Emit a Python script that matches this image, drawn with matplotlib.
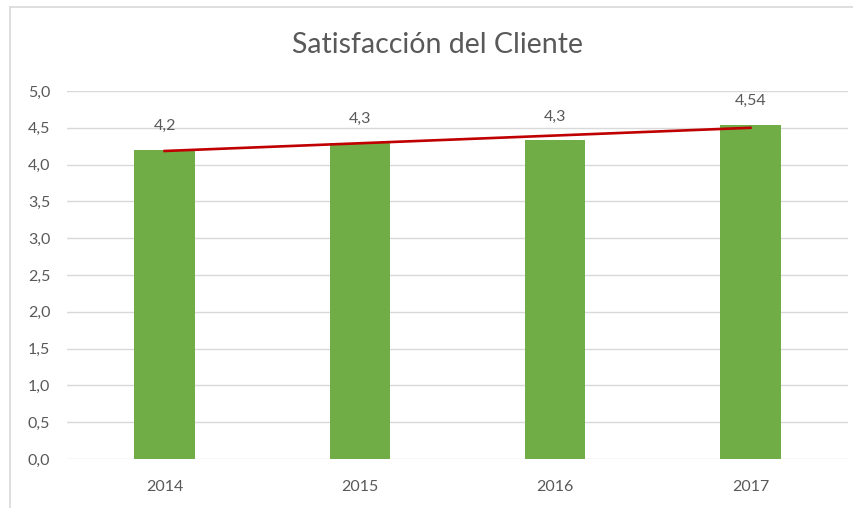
import matplotlib
matplotlib.use("Agg")
import matplotlib.pyplot as plt
import numpy as np
from matplotlib.lines import Line2D

title = "Satisfacción del Cliente"
years = ["2014", "2015", "2016", "2017"]
values = [4.2, 4.3, 4.33, 4.54]
value_labels = ["4,2", "4,3", "4,3", "4,54"]
yticks = [0.0, 0.5, 1.0, 1.5, 2.0, 2.5, 3.0, 3.5, 4.0, 4.5, 5.0]

plt.rcParams['font.family'] = ['Lato', 'DejaVu Sans']
txt = "#595959"

fig = plt.figure(figsize=(8.54, 5.08), dpi=100)
fig.patch.set_facecolor("white")

# chart frame (left/top border)
fig.add_artist(Line2D([10/854, 10/854], [0, 1-7/508], color="#D9D9D9", lw=1.2, transform=fig.transFigure))
fig.add_artist(Line2D([10/854, 1], [1-7/508, 1-7/508], color="#D9D9D9", lw=1.2, transform=fig.transFigure))

ax = fig.add_axes([67/854, 1-459/508, (848-67)/854, (459-91)/508])
x = np.arange(len(years))
ax.bar(x, values, width=0.31, color="#70AD47", zorder=2)

# linear trend line
coef = np.polyfit(x, values, 1)
ax.plot([x[0], x[-1]], np.polyval(coef, [x[0], x[-1]]), color="#C00000", lw=1.9, zorder=3)

for xi, v, lab in zip(x, values, value_labels):
    ax.annotate(lab, (xi, v), xytext=(0, 17), textcoords="offset points",
                ha="center", va="center", fontsize=11.5, color=txt)

ax.set_xlim(-0.5, 3.5)
ax.set_ylim(0, 5)
ax.set_yticks(yticks)
ax.set_yticklabels([f"{t:.1f}".replace(".", ",") for t in yticks])
ax.set_xticks(x)
ax.set_xticklabels(years)
ax.tick_params(axis="both", length=0, labelsize=11.5, labelcolor=txt)
ax.tick_params(axis="y", pad=12)
ax.tick_params(axis="x", pad=15)
ax.grid(axis="y", color="#D9D9D9", lw=1, zorder=0)
for s in ax.spines.values():
    s.set_visible(False)
ax.set_facecolor("none")

fig.text(438/854, 1-45/508, title, ha="center", va="center", fontsize=20.5, color=txt)

fig.savefig("out.png", dpi=100)
